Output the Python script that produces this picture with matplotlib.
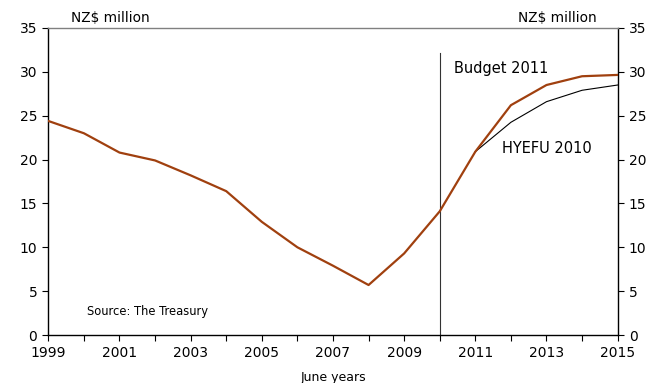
import matplotlib
matplotlib.use("Agg")
import matplotlib.pyplot as plt

years = list(range(1999, 2016))
budget_2011 = [24.4, 23.0, 20.8, 19.9, 18.2, 16.4, 12.9, 10.0, 7.9, 5.7, 9.3, 14.1, 20.9, 26.2, 28.5, 29.5, 29.65]
hyefu_years = [2011, 2012, 2013, 2014, 2015]
hyefu_2010 = [20.9, 24.25, 26.6, 27.9, 28.5]
forecast_start = 2010
forecast_line_top = 32.2

plt.rcParams['font.family'] = ['DejaVu Sans']

fig = plt.figure(figsize=(6.62, 3.83), dpi=100)
ax = fig.add_axes([0.073, 0.1253, 0.860, 0.8016])

ax.plot(years, budget_2011, color='#A0400F', lw=1.6, zorder=3)
ax.plot(hyefu_years, hyefu_2010, color='black', lw=0.8, zorder=2)
ax.plot([forecast_start, forecast_start], [0, forecast_line_top], color='#333333', lw=0.8)

ax.set_xlim(1999, 2015)
ax.set_ylim(0, 35)
ax.set_xticks(years)
ax.set_xticklabels([str(y) if (y - 1999) % 2 == 0 else '' for y in years])
ax.set_yticks(range(0, 36, 5))

ax.tick_params(axis='x', direction='out', length=4, width=0.8, labelsize=10, pad=4, colors='black')
ax.tick_params(axis='y', direction='out', length=4, width=0.8, labelsize=10, pad=4,
               left=True, right=True, labelleft=True, labelright=True)

for s in ['left', 'right', 'bottom']:
    ax.spines[s].set_color('black')
    ax.spines[s].set_linewidth(1.0)
ax.spines['top'].set_color('#808080')
ax.spines['top'].set_linewidth(1.0)

fig.text(71/662, 1 - 18/383, 'NZ$ million', fontsize=9.8, va='center', ha='left')
fig.text(597/662, 1 - 18/383, 'NZ$ million', fontsize=9.8, va='center', ha='right')
fig.text(333/662, 1 - 377/383, 'June years', fontsize=9, va='center', ha='center')

ax.text(2010.4, 30.4, 'Budget 2011', fontsize=10.5, va='center', ha='left')
ax.text(2011.75, 21.3, 'HYEFU 2010', fontsize=10.5, va='center', ha='left')
ax.text(2000.1, 2.7, 'Source: The Treasury', fontsize=8.3, va='center', ha='left')

fig.savefig('out.png', dpi=100)
